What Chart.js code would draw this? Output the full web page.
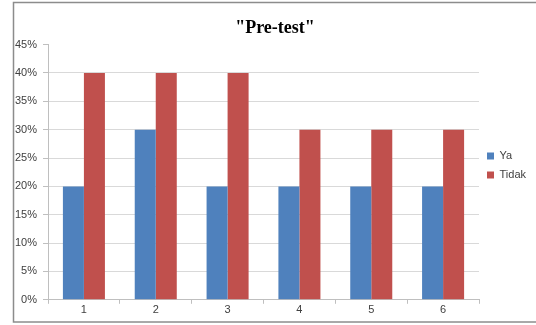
<!DOCTYPE html>
<html>
<head>
<meta charset="utf-8">
<script src="https://cdn.jsdelivr.net/npm/chart.js@4.4.0/dist/chart.umd.min.js"></script>
<style>
  html, body { margin: 0; padding: 0; background: #fff; }
  #wrap { width: 536px; height: 325px; position: relative; }
</style>
</head>
<body>
<div id="wrap"><canvas id="chart" width="536" height="325"></canvas></div>
<script>
// Chart data
const categories = ['1', '2', '3', '4', '5', '6'];
const yaValues = [20, 30, 20, 20, 20, 20];
const tidakValues = [40, 40, 40, 30, 30, 30];
const seriesNames = ['Ya', 'Tidak'];
const yTicks = [0, 5, 10, 15, 20, 25, 30, 35, 40, 45];

// Outer frame like the Excel chart border
const framePlugin = {
  id: 'frame',
  beforeDraw(chart) {
    const ctx = chart.ctx;
    ctx.save();
    ctx.strokeStyle = '#8c8c8c';
    ctx.lineWidth = 1.5;
    ctx.strokeRect(13.5, 2.5, 540, 319.5);
    ctx.restore();
  }
};

new Chart(document.getElementById('chart'), {
  type: 'bar',
  data: {
    labels: categories,
    datasets: [
      { label: seriesNames[0], data: yaValues, backgroundColor: '#4f81bd' },
      { label: seriesNames[1], data: tidakValues, backgroundColor: '#c0504d' }
    ]
  },
  options: {
    responsive: false,
    animation: false,
    layout: { padding: { left: 14, right: 0, top: 14, bottom: 8 } },
    datasets: { bar: { categoryPercentage: 0.585, barPercentage: 1 } },
    plugins: {
      title: {
        display: true,
        text: '"Pre-test"',
        color: '#000',
        font: { family: 'Liberation Serif', size: 18, weight: 'bold' },
        padding: { top: 4, bottom: 5 }
      },
      legend: {
        position: 'right',
        labels: {
          boxWidth: 7,
          boxHeight: 7,
          padding: 8,
          color: '#404040',
          font: { family: 'Liberation Sans', size: 11, lineHeight: 1.36 }
        }
      },
      tooltip: { enabled: false }
    },
    scales: {
      x: {
        grid: { offset: true, drawOnChartArea: false, tickLength: 4, tickColor: '#bfbfbf' },
        border: { color: '#bfbfbf' },
        ticks: { color: '#404040', padding: 0, font: { family: 'Liberation Sans', size: 11 } }
      },
      y: {
        min: 0,
        max: 45,
        afterFit(scale) { scale.width = 34; },
        afterBuildTicks(scale) { scale.ticks = yTicks.map(v => ({ value: v })); },
        grid: {
          color: c => (c.tick && c.tick.value === 45) ? 'rgba(0,0,0,0)' : '#d9d9d9',
          tickColor: '#bfbfbf',
          tickLength: 5
        },
        border: { color: '#bfbfbf' },
        ticks: {
          color: '#404040',
          padding: 6,
          font: { family: 'Liberation Sans', size: 11 },
          callback: v => v + '%'
        }
      }
    }
  },
  plugins: [framePlugin]
});
</script>
</body>
</html>
